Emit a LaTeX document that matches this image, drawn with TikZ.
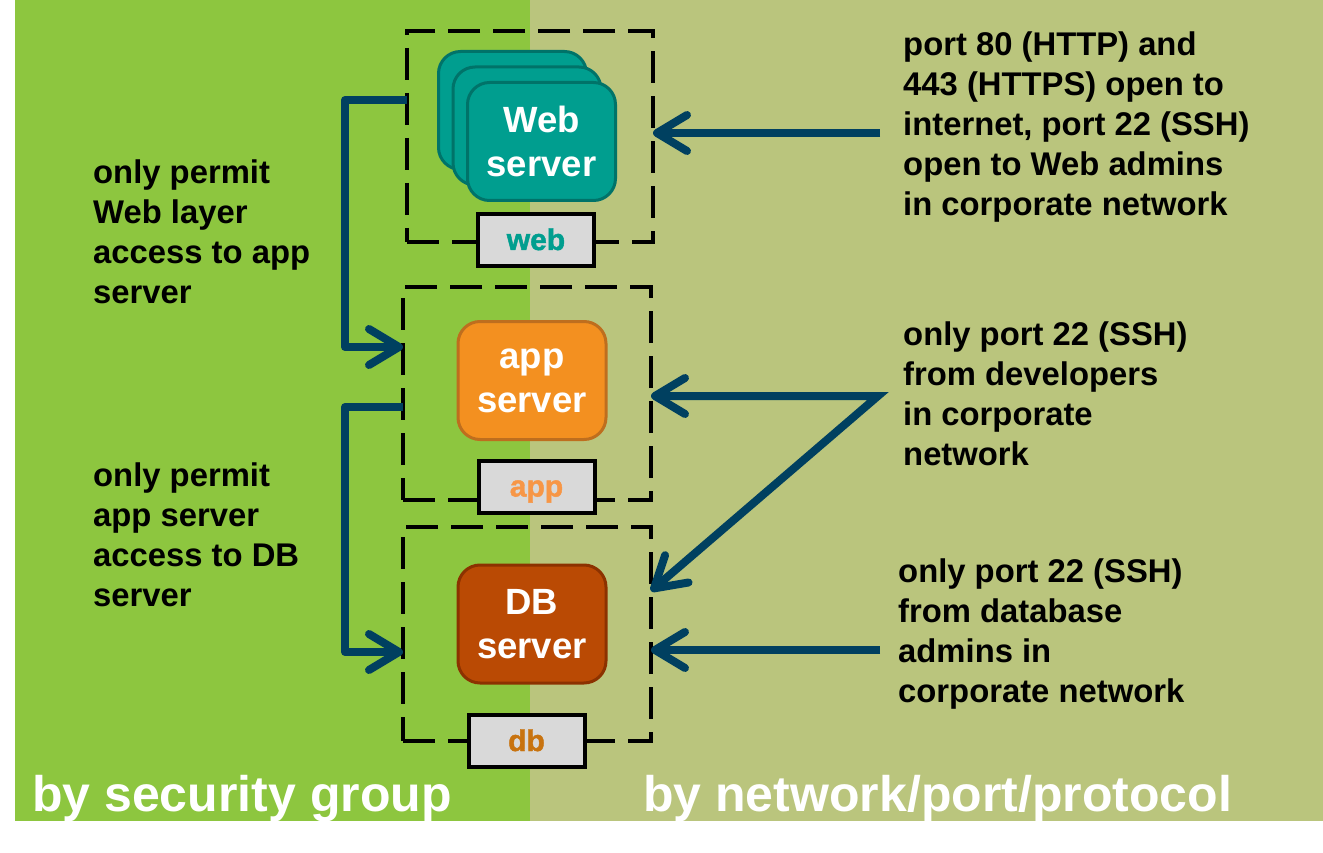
\documentclass[tikz,border=0pt]{standalone}
\usepackage{fontspec}
\setmainfont{Liberation Sans}
\newfontfamily\heavyfont[BoldFeatures={FakeBold=1.5}]{Liberation Sans}
\usetikzlibrary{arrows.meta}
\definecolor{bggreen}{RGB}{141,198,63}
\definecolor{bgolive}{RGB}{186,197,125}
\definecolor{tealf}{RGB}{0,158,143}
\definecolor{teald}{RGB}{0,115,105}
\definecolor{orgf}{RGB}{243,144,32}
\definecolor{orgd}{RGB}{190,110,30}
\definecolor{dbf}{RGB}{186,74,4}
\definecolor{dbd}{RGB}{140,50,0}
\definecolor{navy}{RGB}{0,64,96}
\definecolor{lblgray}{RGB}{217,217,217}
\definecolor{applbl}{RGB}{247,150,70}
\definecolor{dblbl}{RGB}{200,115,15}
\tikzset{
  barb/.tip={Straight Barb[length=30pt,width=36pt,round]},
}
\begin{document}
\begin{tikzpicture}[x=1pt,y=-1pt,
  srv/.style={rectangle, rounded corners=22pt, line width=3pt, minimum width=148pt, minimum height=118pt, inner sep=0pt, text=white, align=center, font=\fontsize{36.5}{44}\selectfont\bfseries},
  grp/.style={rectangle, draw=black, line width=3.5pt, dash pattern=on 32pt off 13pt, inner sep=0pt, outer sep=0pt},
  lbl/.style={rectangle, draw=black, line width=4pt, fill=lblgray, minimum width=116pt, minimum height=52pt, inner sep=0pt, text height=24pt, text depth=4pt, font=\fontsize{30}{30}\selectfont\heavyfont\bfseries},
  note/.style={anchor=north west, inner sep=0pt, align=left, font=\fontsize{32.8}{40}\selectfont\bfseries},
  foot/.style={anchor=base west, inner sep=0pt, text=white, font=\fontsize{50}{50}\selectfont\bfseries},
  conn/.style={draw=navy, line width=8pt},
]
\fill[white] (0,0) rectangle (1323,853);
\fill[bggreen] (15,0) rectangle (530,821);
\fill[bgolive] (530,0) rectangle (1323,821);
\useasboundingbox (0,0) rectangle (1323,853);

% groups
\node[grp, minimum width=246pt, minimum height=211pt] (webgrp) at (530,136.5) {};
\node[grp, minimum width=248pt, minimum height=213pt] (appgrp) at (527,393.5) {};
\node[grp, minimum width=248pt, minimum height=214pt] (dbgrp) at (527,634) {};

% servers
\node[srv, fill=tealf, draw=teald] (webback) at (512.5,110.5) {};
\node[srv, fill=tealf, draw=teald] (webmid) at (527,126) {};
\node[srv, fill=tealf, draw=teald] (web) at (541.5,141.5) {Web\\server};
\node[srv, fill=orgf, draw=orgd] (app) at (532,380.5) {app\\server};
\node[srv, fill=dbf, draw=dbd] (db) at (532,624) {DB\\server};

% labels
\node[lbl, text=tealf] (weblbl) at (536,240) {web};
\node[lbl, text=applbl] (applbl) at (536.5,486.5) {app};
\node[lbl, text=dblbl] (dblbl) at (526.5,741) {db};

% notes
\node[note] (n1) at (93,160) {only permit\\Web layer\\access to app\\server};
\node[note] (n2) at (93,463) {only permit\\app server\\access to DB\\server};
\node[note] (n3) at (903,32) {port 80 (HTTP) and\\443 (HTTPS) open to\\internet, port 22 (SSH)\\open to Web admins\\in corporate network};
\node[note] (n4) at (903,322) {only port 22 (SSH)\\from developers\\in corporate\\network};
\node[note] (n5) at (898,559) {only port 22 (SSH)\\from database\\admins in\\corporate network};

% footers
\node[foot] (f1) at (32,811) {by security group};
\node[foot] (f2) at (643,811) {by network/port/protocol};

% left connectors
\coordinate (lb1) at (345,347);
\coordinate (lb2) at (345,652);
\draw[conn, line join=round, -barb] (webgrp.west |- 0,100) -| (lb1) -- (appgrp.west |- lb1);
\draw[conn, line join=round, -barb] (appgrp.west |- 0,407) -| (lb2) -- (dbgrp.west |- lb2);

% right connectors
\coordinate (r1) at (880,133);
\coordinate (r2) at (878,396);
\coordinate (r3) at (880,650);
\draw[conn, -barb] (r1) -- (webgrp.east |- r1);
\draw[conn, barb-barb] (appgrp.east |- r2) -- (r2) -- (dbgrp.east |- 0,591);
\draw[conn, -barb] (r3) -- (dbgrp.east |- r3);
\end{tikzpicture}
\end{document}
